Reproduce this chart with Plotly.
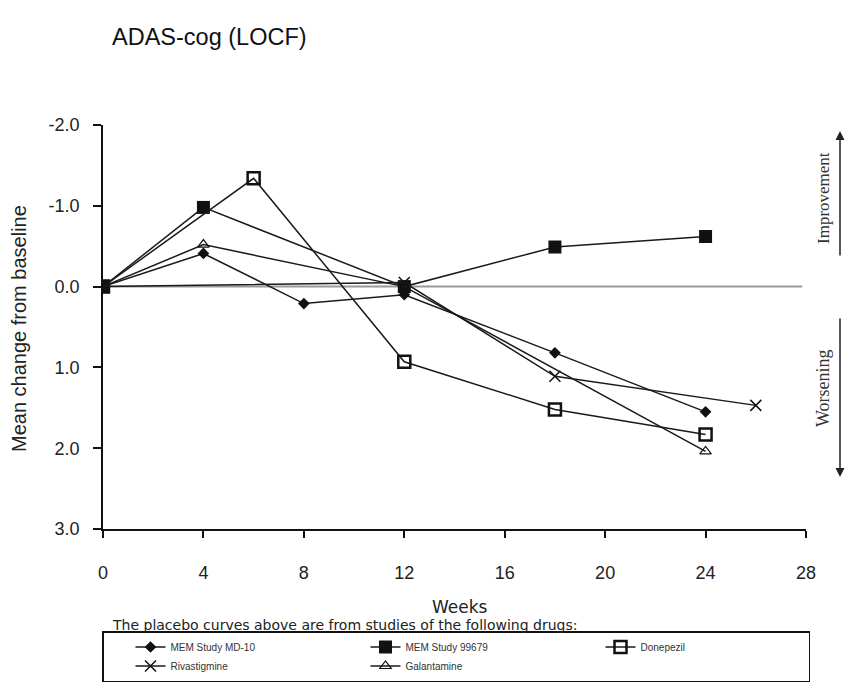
import plotly.graph_objects as go

# ---- data ----
md10_weeks = [0, 4, 8, 12, 18, 24]
md10_vals = [0.0, -0.41, 0.21, 0.10, 0.82, 1.55]

s99679_weeks = [0, 4, 12, 18, 24]
s99679_vals = [0.0, -0.98, 0.0, -0.49, -0.62]

donepezil_weeks = [0, 6, 12, 18, 24]
donepezil_vals = [0.0, -1.34, 0.93, 1.52, 1.83]

rivastigmine_weeks = [0, 12, 18, 26]
rivastigmine_vals = [0.0, -0.05, 1.11, 1.47]

galantamine_weeks = [0, 4, 12, 24]
galantamine_vals = [0.0, -0.52, 0.0, 2.04]

x_ticks = [0, 4, 8, 12, 16, 20, 24, 28]
y_ticks = [-2.0, -1.0, 0.0, 1.0, 2.0, 3.0]

# page body has an 8px margin: figure coords = screen coords - 8
O = 8
W, H = 861, 682
PL, PR, PT, PB = 103, 806, 125, 529          # plot box in screen pixels
L, T = PL - O, PT - O
R, B = W - (PR - O), H - (PB - O)
PW, PH = PR - PL, PB - PT

def px_x(px):
    return (px - PL) / PW

def px_y(py):
    return (PB - py) / PH

LINE = dict(color="#1a1a1a", width=1.5)
fig = go.Figure()

fig.add_trace(go.Scatter(x=md10_weeks, y=md10_vals, name="MEM Study MD-10",
                         mode="lines+markers", line=LINE,
                         marker=dict(symbol="diamond", size=9, color="#111")))
fig.add_trace(go.Scatter(x=s99679_weeks, y=s99679_vals, name="MEM Study 99679",
                         mode="lines+markers", line=LINE,
                         marker=dict(symbol="square", size=13, color="#111")))
fig.add_trace(go.Scatter(x=donepezil_weeks, y=donepezil_vals, name="Donepezil",
                         mode="lines+markers", line=LINE,
                         marker=dict(symbol="square-open", size=12, color="#111",
                                     line=dict(width=2.5, color="#111"))))
fig.add_trace(go.Scatter(x=rivastigmine_weeks, y=rivastigmine_vals, name="Rivastigmine",
                         mode="lines+markers", line=LINE,
                         marker=dict(symbol="x-thin-open", size=11, color="#111",
                                     line=dict(width=1.5, color="#111"))))
fig.add_trace(go.Scatter(x=galantamine_weeks, y=galantamine_vals, name="Galantamine",
                         mode="lines+markers", line=LINE,
                         marker=dict(symbol="triangle-up-open", size=10, color="#111",
                                     line=dict(width=1.2, color="#111"))))

fig.add_shape(type="line", xref="x", yref="y", x0=0, x1=27.85, y0=0, y1=0,
              line=dict(color="#9a9a9a", width=2), layer="below")

FONT = "Liberation Sans, Arial, sans-serif"
WIDE = "DejaVu Sans, Verdana, sans-serif"
SERIF = "Liberation Serif, Times New Roman, serif"

fig.update_layout(
    width=W, height=H,
    margin=dict(l=L, r=R, t=T, b=B, autoexpand=False),
    paper_bgcolor="white", plot_bgcolor="white",
    font=dict(family=FONT, color="#222"),
    title=dict(text="ADAS-cog (LOCF)", x=(112 - O) / W, xanchor="left",
               y=1 - (37 - O) / H, yanchor="middle",
               font=dict(size=23.5, color="#111", family=FONT)),
    showlegend=True,
    legend=dict(orientation="h", x=px_x(102), xanchor="left", y=px_y(631), yanchor="top",
                bordercolor="#111", borderwidth=1.5,
                font=dict(size=10, color="#333", family=FONT),
                entrywidth=163, entrywidthmode="pixels", indentation=27,
                tracegroupgap=0, itemwidth=30, traceorder="normal"),
    xaxis=dict(range=[0, 28], tickvals=x_ticks, ticktext=[str(v) for v in x_ticks],
               showgrid=False, zeroline=False, showline=True, linecolor="#111",
               linewidth=1.5, ticks="outside", ticklen=7, tickwidth=1.5,
               tickcolor="#111", tickfont=dict(size=18, color="#222"),
               ticklabelstandoff=20, fixedrange=True),
    yaxis=dict(range=[3, -2], tickvals=y_ticks, ticktext=[f"{v:.1f}" for v in y_ticks],
               showgrid=False, zeroline=False, showline=True, linecolor="#111",
               linewidth=1.5, ticks="outside", ticklen=8, tickwidth=1.5,
               tickcolor="#111", tickfont=dict(size=18, color="#222"),
               ticklabelstandoff=10, fixedrange=True),
)

annotations = [
    dict(text="Mean change from baseline", xref="paper", yref="paper",
         x=px_x(19), y=px_y(329), xanchor="center", yanchor="middle",
         textangle=-90, showarrow=False, font=dict(size=20, color="#222")),
    dict(text="Weeks", xref="paper", yref="paper", x=px_x(460), y=px_y(607),
         xanchor="center", yanchor="middle", showarrow=False,
         font=dict(size=17, color="#222", family=WIDE)),
    dict(text="The placebo curves above are from studies of the following drugs:",
         xref="paper", yref="paper", x=px_x(110), y=px_y(625),
         xanchor="left", yanchor="middle", showarrow=False,
         font=dict(size=14, color="#222", family=WIDE)),
    dict(text="Improvement", xref="paper", yref="paper", x=px_x(823), y=px_y(198),
         xanchor="center", yanchor="middle", textangle=-90, showarrow=False,
         font=dict(size=17, color="#333", family=SERIF)),
    dict(text="Worsening", xref="paper", yref="paper", x=px_x(823), y=px_y(388),
         xanchor="center", yanchor="middle", textangle=-90, showarrow=False,
         font=dict(size=18, color="#333", family=SERIF)),
    dict(text="", xref="paper", yref="paper", x=px_x(840), y=px_y(131),
         ax=0, ay=126, showarrow=True, arrowhead=2, arrowsize=1.2,
         arrowwidth=1.5, arrowcolor="#222"),
    dict(text="", xref="paper", yref="paper", x=px_x(840), y=px_y(477),
         ax=0, ay=-160, showarrow=True, arrowhead=2, arrowsize=1.2,
         arrowwidth=1.5, arrowcolor="#222"),
]
fig.update_layout(annotations=annotations)

fig.write_html("out.html")
